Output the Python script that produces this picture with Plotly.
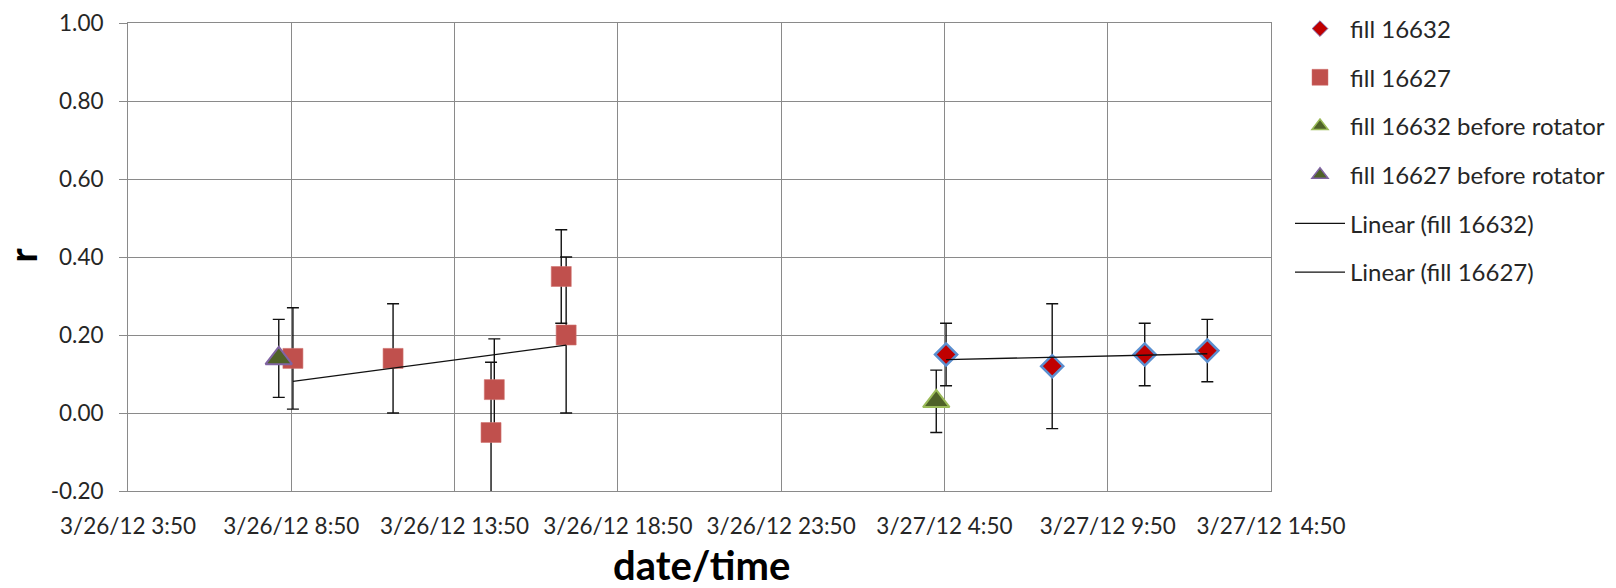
import numpy as np
import pandas as pd
import plotly.graph_objects as go

# ---------------- data ----------------
t_16632 = ["2012-03-27 04:53", "2012-03-27 08:08", "2012-03-27 10:58", "2012-03-27 12:53"]
r_16632 = [0.15, 0.12, 0.15, 0.16]
e_16632 = [0.08, 0.16, 0.08, 0.08]

t_16627 = ["2012-03-26 08:53", "2012-03-26 11:57", "2012-03-26 14:57",
           "2012-03-26 15:03", "2012-03-26 17:06", "2012-03-26 17:15"]
r_16627 = [0.14, 0.14, -0.05, 0.06, 0.35, 0.20]
e_16627 = [0.13, 0.14, 0.18, 0.13, 0.12, 0.20]

t_16632_before = ["2012-03-27 04:35"]
r_16632_before = [0.03]
e_16632_before = [0.08]

t_16627_before = ["2012-03-26 08:27"]
r_16627_before = [0.14]
e_16627_before = [0.10]

x_tick_times = ["2012-03-26 03:50", "2012-03-26 08:50", "2012-03-26 13:50", "2012-03-26 18:50",
                "2012-03-26 23:50", "2012-03-27 04:50", "2012-03-27 09:50", "2012-03-27 14:50"]
x_tick_labels = ["3/26/12 3:50", "3/26/12 8:50", "3/26/12 13:50", "3/26/12 18:50",
                 "3/26/12 23:50", "3/27/12 4:50", "3/27/12 9:50", "3/27/12 14:50"]
y_tick_vals = [-0.2, 0.0, 0.2, 0.4, 0.6, 0.8, 1.0]
y_tick_labels = ["-0.20", "0.00", "0.20", "0.40", "0.60", "0.80", "1.00"]


def linear_trend(times, values):
    ts = pd.to_datetime(pd.Series(times))
    hrs = (ts - ts.min()).dt.total_seconds() / 3600.0
    k, b = np.polyfit(hrs.values, np.asarray(values), 1)
    ends = [hrs.min(), hrs.max()]
    xs = [ts.min() + pd.Timedelta(hours=h) for h in ends]
    ys = [k * h + b for h in ends]
    return xs, ys


trend_x_32, trend_y_32 = linear_trend(t_16632, r_16632)
trend_x_27, trend_y_27 = linear_trend(t_16627, r_16627)

FONT = "Lato"
TXT = "#262626"
GRID = "#8a8a8a"

SQ_COLOR = "#C0504D"
DIA_FILL = "#C00000"
DIA_LINE = "#5B8FD0"
OLIVE = "#4F6228"
GREEN_LINE = "#9BBB59"
PURPLE_LINE = "#8064A2"


def err(arr):
    return dict(type="data", array=arr, arrayminus=arr, color="#111111",
                thickness=1.4, width=6, visible=True)


fig = go.Figure()

# plotted series (legend handled by separate entries below)
fig.add_trace(go.Scatter(x=t_16632, y=r_16632, mode="markers", showlegend=False,
                         marker=dict(symbol="diamond", size=17, color=DIA_FILL,
                                     line=dict(color=DIA_LINE, width=2.5)),
                         error_y=err(e_16632)))
fig.add_trace(go.Scatter(x=t_16627, y=r_16627, mode="markers", showlegend=False,
                         marker=dict(symbol="square", size=20, color=SQ_COLOR,
                                     line=dict(color="#D07370", width=0.6)),
                         error_y=err(e_16627)))
fig.add_trace(go.Scatter(x=t_16632_before, y=r_16632_before, mode="markers", showlegend=False,
                         marker=dict(symbol="triangle-up", size=23, color=OLIVE,
                                     line=dict(color=GREEN_LINE, width=2)),
                         error_y=err(e_16632_before)))
fig.add_trace(go.Scatter(x=t_16627_before, y=r_16627_before, mode="markers", showlegend=False,
                         marker=dict(symbol="triangle-up", size=23, color=OLIVE,
                                     line=dict(color=PURPLE_LINE, width=2)),
                         error_y=err(e_16627_before)))
fig.add_trace(go.Scatter(x=trend_x_32, y=trend_y_32, mode="lines", showlegend=False,
                         line=dict(color="#111111", width=1.4)))
fig.add_trace(go.Scatter(x=trend_x_27, y=trend_y_27, mode="lines", showlegend=False,
                         line=dict(color="#111111", width=1.4)))

# legend entries
legend_specs = [
    ("fill 16632", dict(mode="markers", marker=dict(symbol="diamond", size=12, color=DIA_FILL,
                                                    line=dict(color=PURPLE_LINE, width=1)))),
    ("fill 16627", dict(mode="markers", marker=dict(symbol="square", size=16, color=SQ_COLOR,
                                                    line=dict(color="#D07370", width=0.5)))),
    ("fill 16632 before rotator", dict(mode="markers", marker=dict(symbol="triangle-up", size=14, color=OLIVE,
                                                                   line=dict(color=GREEN_LINE, width=1.5)))),
    ("fill 16627 before rotator", dict(mode="markers", marker=dict(symbol="triangle-up", size=14, color=OLIVE,
                                                                   line=dict(color=PURPLE_LINE, width=1.5)))),
    ("Linear (fill 16632)", dict(mode="lines", line=dict(color="#111111", width=1.4))),
    ("Linear (fill 16627)", dict(mode="lines", line=dict(color="#111111", width=1.4))),
]
for i, (name, spec) in enumerate(legend_specs):
    fig.add_trace(go.Scatter(x=[None], y=[None], name=name, legendgroup=f"g{i}",
                             showlegend=True, **spec))

L, R, T, B = 128.4, 344.5, 22.5, 96.5
W, H = 1616, 588
pw = W - L - R
ph = H - T - B

fig.update_layout(
    width=W, height=H, autosize=False,
    margin=dict(l=L, r=R, t=T, b=B, pad=0, autoexpand=False),
    paper_bgcolor="white", plot_bgcolor="white",
    font=dict(family=FONT, size=22.5, color=TXT),
    showlegend=True,
    legend=dict(xref="container", yref="container",
                x=1290 / W, xanchor="left", y=1.0 - 6.5 / H, yanchor="top",
                font=dict(family=FONT, size=24, color=TXT),
                tracegroupgap=14.5, bgcolor="rgba(0,0,0,0)", borderwidth=0,
                itemsizing="trace", itemwidth=50),
    xaxis=dict(type="date", range=[x_tick_times[0], x_tick_times[-1]],
               tickmode="array", tickvals=x_tick_times, ticktext=x_tick_labels,
               showgrid=True, gridcolor=GRID, gridwidth=1,
               showline=True, linecolor=GRID, linewidth=1, mirror=True,
               ticks="", ticklabelstandoff=15, zeroline=False, automargin=False,
               tickfont=dict(family=FONT, size=22.5, color=TXT)),
    yaxis=dict(range=[-0.2, 1.0], tickmode="array", tickvals=y_tick_vals, ticktext=y_tick_labels,
               showgrid=True, gridcolor=GRID, gridwidth=1,
               showline=True, linecolor=GRID, linewidth=1, mirror=True,
               ticks="outside", ticklen=8, tickcolor=GRID, tickwidth=1,
               ticklabelstandoff=11, zeroline=False, automargin=False,
               tickfont=dict(family=FONT, size=22.5, color=TXT)),
    annotations=[
        dict(text="<b>date/time</b>", xref="paper", yref="paper",
             x=(702 - L) / pw, y=(H - B - 565.5) / ph, xanchor="center", yanchor="middle",
             showarrow=False, font=dict(family=FONT, size=40, color="#000000")),
        dict(text="<b>r</b>", xref="paper", yref="paper", textangle=-90,
             x=(22 - L) / pw, y=(H - B - 255) / ph, xanchor="center", yanchor="middle",
             showarrow=False, font=dict(family=FONT, size=38, color="#000000")),
    ],
)

fig.write_html("out.html", config={"displayModeBar": False},
               post_script="document.body.style.margin='0';")
